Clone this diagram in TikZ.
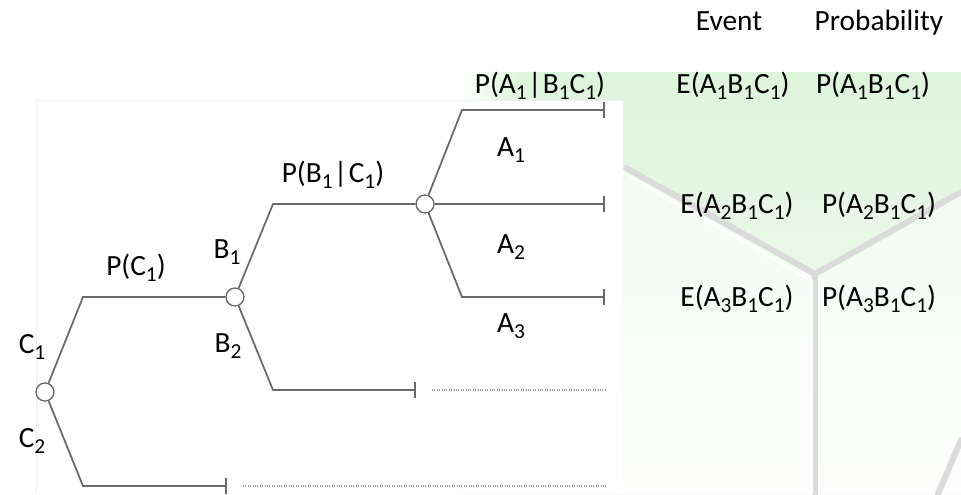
\documentclass[tikz,border=0pt]{standalone}
\usepackage{fontspec}
\setmainfont{Carlito}
\usetikzlibrary{arrows.meta}
\definecolor{lc}{RGB}{105,105,105}
\definecolor{gA}{RGB}{221,245,219}
\definecolor{gB}{RGB}{236,247,234}
\definecolor{gC}{RGB}{249,252,248}
\newcommand{\lsub}[1]{\raisebox{-5pt}{\fontsize{16}{16}\selectfont #1}}
\newcommand{\cbar}{\kern1pt|\kern1pt}
\tikzset{
  br/.style={draw=lc, line width=1.3pt},
  endbr/.style={br, -{Bar[width=12pt]}},
  chance/.style={circle, draw=lc, fill=white, line width=1pt, minimum size=13.5pt, inner sep=0pt},
  lbl/.style={font=\fontsize{22}{24}\selectfont, anchor=base, inner sep=0pt, text=black},
  dotln/.style={draw=black!40, line width=1.1pt, dash pattern=on 0.7pt off 1.1pt},
  edge3d/.style={line width=4.5pt, black!14, line cap=round}
}
\begin{document}
\begin{tikzpicture}[x=0.75pt, y=-0.75pt]
\useasboundingbox (0,0) rectangle (961,494);
\fill[white] (0,0) rectangle (961,494);
% green background
\shade[top color=gA, bottom color=gB] (460,72) rectangle (961,280);
\shade[top color=gB, bottom color=gC] (460,280) rectangle (961,494);
\shade[left color=white, right color=gA] (460,72) rectangle (520,100);
% lighter lower faces of the cube
\fill[white, opacity=0.6] (623,165) -- (815,274) -- (961,192) -- (961,494) -- (623,494) -- cycle;
\draw[edge3d] (626,168) -- (815,274) -- (961,192);
\draw[edge3d] (815,274) -- (815,494);
\draw[edge3d] (961,440) -- (938,494);
\draw[white, line width=2pt, opacity=0.8] (630,177) -- (812,281) -- (812,494);
% white panel
\fill[white] (36,100) rectangle (623,494);
\draw[black!6] (36,494) -- (36,100) -- (623,100);

% chance nodes
\node[chance] (c) at (45,392) {};
\node[chance] (b) at (235,297) {};
\node[chance] (a) at (425,204) {};
\coordinate (c1) at (83,297);
\coordinate (c2) at (83,486);
\coordinate (c2e) at (227,486);
\coordinate (c2d0) at (243,486);
\coordinate (c2d1) at (607,486);
\coordinate (b1) at (273,204);
\coordinate (b2) at (273,390);
\coordinate (b2e) at (416,390);
\coordinate (b2d0) at (432,390);
\coordinate (b2d1) at (607,390);
\coordinate (a1) at (462,110);
\coordinate (a1e) at (605,110);
\coordinate (a2e) at (605,204);
\coordinate (a3) at (462,297);
\coordinate (a3e) at (605,297);

% branches
\draw[br] (c) -- (c1) -- (b);
\draw[endbr] (c) -- (c2) -- (c2e);
\draw[dotln] (c2d0) -- (c2d1);
\draw[br] (b) -- (b1) -- (a);
\draw[endbr] (b) -- (b2) -- (b2e);
\draw[dotln] (b2d0) -- (b2d1);
\draw[endbr] (a) -- (a1) -- (a1e);
\draw[endbr] (a) -- (a2e);
\draw[endbr] (a) -- (a3) -- (a3e);

% labels
\node[lbl] (pc) at (136,275) {P(C\lsub{1})};
\node[lbl] (c1l) at (32,353) {C\lsub{1}};
\node[lbl] (c2l) at (32,447) {C\lsub{2}};
\node[lbl] (b1l) at (227,258) {B\lsub{1}};
\node[lbl] (b2l) at (228,352) {B\lsub{2}};
\node[lbl] (pb) at (333,182) {P(B\lsub{1}\cbar C\lsub{1})};
\node[lbl] (pa) at (540,93) {P(A\lsub{1}\cbar B\lsub{1}C\lsub{1})};
\node[lbl] (a1l) at (511,156) {A\lsub{1}};
\node[lbl] (a2l) at (511,253) {A\lsub{2}};
\node[lbl] (a3l) at (511,332) {A\lsub{3}};
\node[lbl] (ev) at (729,30) {Event};
\node[lbl] (pr) at (879,30) {Probability};
\node[lbl] (e1) at (733,93) {E(A\lsub{1}B\lsub{1}C\lsub{1})};
\node[lbl] (p1) at (873,93) {P(A\lsub{1}B\lsub{1}C\lsub{1})};
\node[lbl] (e2) at (737,213) {E(A\lsub{2}B\lsub{1}C\lsub{1})};
\node[lbl] (p2) at (879,213) {P(A\lsub{2}B\lsub{1}C\lsub{1})};
\node[lbl] (e3) at (737,306) {E(A\lsub{3}B\lsub{1}C\lsub{1})};
\node[lbl] (p3) at (879,306) {P(A\lsub{3}B\lsub{1}C\lsub{1})};
\end{tikzpicture}
\end{document}
